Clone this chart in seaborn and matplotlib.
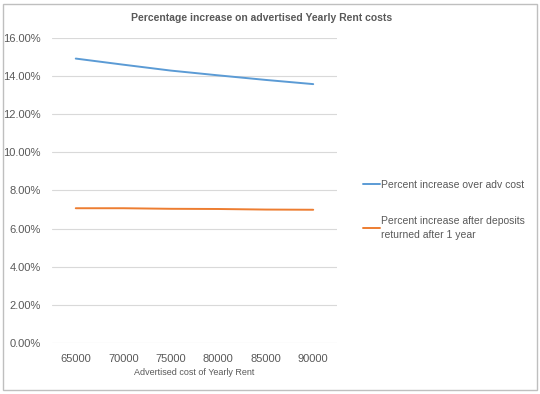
import pandas as pd
import matplotlib.pyplot as plt
import seaborn as sns
from matplotlib.patches import Rectangle

# data
rent_costs = [65000, 70000, 75000, 80000, 85000, 90000]
pct_over_adv = [0.1492, 0.1460, 0.1429, 0.1404, 0.1380, 0.1358]
pct_after_deposit = [0.0707, 0.0707, 0.0704, 0.0703, 0.0700, 0.0699]
series_names = ["Percent increase over adv cost",
                "Percent increase after deposits\nreturned after 1 year"]
ytick_vals = [0, 0.02, 0.04, 0.06, 0.08, 0.10, 0.12, 0.14, 0.16]

df = pd.DataFrame({
    "cost": rent_costs * 2,
    "pct": pct_over_adv + pct_after_deposit,
    "series": [series_names[0]] * 6 + [series_names[1]] * 6,
})

sns.set_style("white")
plt.rcParams["font.family"] = ["Liberation Sans", "DejaVu Sans"]
grey = "#595959"

fig = plt.figure(figsize=(5.4, 3.94), dpi=100)
ax = fig.add_axes([0.0963, 0.1294, 0.624 - 0.0963, 0.9036 - 0.1294])

sns.lineplot(data=df, x="cost", y="pct", hue="series", ax=ax,
             palette=["#5B9BD5", "#ED7D31"], linewidth=1.4)

ax.set_xlim(62500, 92500)
ax.set_ylim(0, 0.16)
ax.set_xticks(rent_costs)
ax.set_xticklabels([str(c) for c in rent_costs])
ax.set_yticks(ytick_vals)
ax.set_yticklabels(["{:.2f}%".format(v * 100) for v in ytick_vals])
ax.tick_params(axis="both", length=0, labelsize=8, labelcolor=grey, pad=8)
ax.grid(axis="y", color="#D9D9D9", linewidth=0.8)
ax.set_axisbelow(True)
for s in ax.spines.values():
    s.set_visible(False)

ax.set_xlabel("Advertised cost of Yearly Rent", fontsize=6.5, color=grey, labelpad=3)
ax.set_ylabel("")
ax.set_title("Percentage increase on advertised Yearly Rent costs",
             fontsize=7.5, fontweight="bold", color=grey, x=0.735, pad=12)

leg = ax.legend(loc="center left", bbox_to_anchor=(1.06, 0.437), frameon=False,
                fontsize=7.5, handlelength=1.6, handletextpad=0.1,
                labelspacing=2.5, labelcolor=grey)
for t in leg.get_texts():
    t.set_linespacing(1.5)

# outer chart border
fig.patches.append(Rectangle((3 / 540, 4 / 394), 534 / 540, 386 / 394,
                             transform=fig.transFigure, fill=False,
                             edgecolor="#BFBFBF", linewidth=1))

fig.savefig("out.png", dpi=100)
